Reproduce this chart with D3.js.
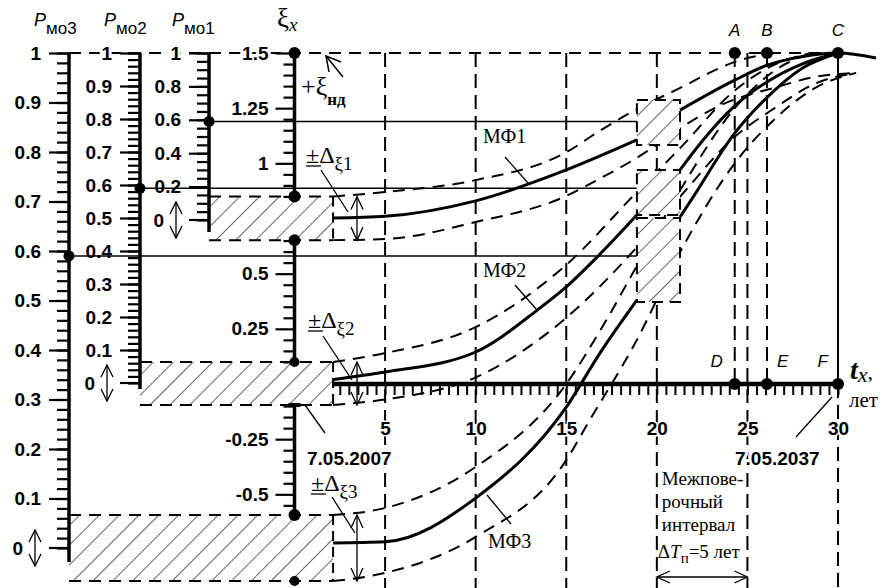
<!DOCTYPE html>
<html>
<head>
<meta charset="utf-8">
<script src="https://cdn.jsdelivr.net/npm/d3@7"></script>
<style>
  body { margin: 0; background: #fff; }
  text { fill: #000; }
</style>
</head>
<body>
<div id="chart"></div>
<script>
// ---------- data ----------
const yearTicks = [5, 10, 15, 20, 25, 30];
const xiLabels = [1.5, 1.25, 1, 0.5, 0.25, -0.25, -0.5];
const xiSegments = [[0.85, 1.5], [0.1, 0.652], [-0.594, -0.095]];
const xiDots = [1.5, 0.85, 0.652, 0.1, -0.594, -0.893];

const p1Labels = [1, 0.8, 0.6, 0.4, 0.2];
const p2Labels = [1, 0.9, 0.8, 0.7, 0.6, 0.5, 0.4, 0.3, 0.2, 0.1];
const p3Labels = [1, 0.9, 0.8, 0.7, 0.6, 0.5, 0.4, 0.3, 0.2, 0.1];
const pLevel = 0.59;              // P value marked on each P axis

// start uncertainty zones (ξ range) at t = 0..tStart
const tStart = 2.13;
const startZones = [[0.652, 0.85], [-0.095, 0.1], [-0.893, -0.594]];
// verification zones around t = 20
const tVer = [18.9, 21.28];
const verZones = [[1.083, 1.287], [0.766, 0.97], [0.372, 0.752]];

// metrological function curves [t, ξ]
const mf1a = [[2.13, 0.752], [5, 0.76], [10, 0.83], [15, 0.97], [18.9, 1.106]];
const mf1b = [[21.28, 1.241], [24.3, 1.377], [26.1, 1.445], [27.9, 1.482], [30, 1.5], [32.1, 1.477]];
const mf2a = [[2.13, 0.02], [5, 0.054], [10, 0.145], [13.4, 0.335], [15, 0.44], [16.7, 0.575], [18.9, 0.766]];
const mf2b = [[21.28, 0.97], [22.5, 1.1], [24.3, 1.26], [26.1, 1.37], [28, 1.45], [30, 1.5]];
const mf3a = [[2.13, -0.72], [5, -0.715], [10, -0.517], [15, -0.105], [16.86, 0.14], [18.9, 0.38]];
const mf3b = [[21.28, 0.757], [22, 0.847], [24.3, 1.137], [26.1, 1.3], [28, 1.43], [30, 1.5]];

// bounds (dashed)
const mf1Up = [[2.13, 0.85], [5, 0.87], [10, 0.924], [15, 1.05], [16.9, 1.15], [19, 1.25], [21.4, 1.346], [22.9, 1.41], [24.3, 1.46], [26.5, 1.5]];
const mf1Lo = [[2.13, 0.652], [5, 0.657], [10, 0.734], [15, 0.852], [16.7, 0.924], [19, 1.03], [21.5, 1.17], [23.3, 1.255], [26.8, 1.35], [28.6, 1.39], [31, 1.41]];
const mf2Up = [[2.13, 0.1], [5, 0.14], [10, 0.258], [15, 0.54], [18.9, 0.87], [21.3, 1.07], [24.3, 1.33], [26.3, 1.44], [28.5, 1.5]];
const mf2Lo = [[2.13, -0.095], [5, -0.07], [10, 0.03], [15, 0.3], [18.9, 0.62], [21.3, 0.85], [24.3, 1.12], [26.5, 1.25], [28.7, 1.36], [31, 1.41]];
const mf3Up = [[2.13, -0.594], [5, -0.562], [10, -0.376], [15, 0.0], [17, 0.26], [19, 0.55], [21.3, 0.88], [24.3, 1.25], [26.5, 1.42], [28.5, 1.5]];
const mf3Lo = [[2.13, -0.893], [5, -0.856], [10, -0.693], [15, -0.345], [16.2, -0.177], [18.9, 0.2], [21.3, 0.6], [24.3, 1.0], [26.5, 1.2], [28.7, 1.34], [31, 1.41]];

const markT = [24.3, 26.08, 30];           // A/D, B/E, C/F
const topNames = ['A', 'B', 'C'];
const axisNames = ['D', 'E', 'F'];

// ---------- layout ----------
const W = 893, H = 588;
const SANS = 'Liberation Sans, Arial, sans-serif';
const SERIF = 'Liberation Serif, Times New Roman, serif';

const x = d3.scaleLinear().domain([0, 30]).range([294.5, 838]);
const y = d3.scaleLinear().domain([0, 1.5]).range([384, 53]);
const p1 = d3.scaleLinear().domain([0, 1]).range([220, 53]);
const p2 = d3.scaleLinear().domain([0, 1]).range([383, 53]);
const p3 = d3.scaleLinear().domain([0, 1]).range([548, 53]);
const XP3 = 69, XP2 = 140, XP1 = 209, XXI = x(0);

const svg = d3.select('#chart').append('svg')
  .attr('width', W).attr('height', H)
  .style('font-family', SANS);

const defs = svg.append('defs');
defs.append('pattern').attr('id', 'hatch')
  .attr('patternUnits', 'userSpaceOnUse').attr('width', 14).attr('height', 14)
  .attr('patternTransform', 'rotate(45)')
  .append('line').attr('x1', 0).attr('y1', 0).attr('x2', 0).attr('y2', 14)
  .attr('stroke', '#000').attr('stroke-width', 1.2);

const lineGen = d3.line().x(d => x(d[0])).y(d => y(d[1])).curve(d3.curveMonotoneX);

function seg(g, x1, y1, x2, y2, w = 1.3, dash = null) {
  const l = g.append('line').attr('x1', x1).attr('y1', y1).attr('x2', x2).attr('y2', y2)
    .attr('stroke', '#000').attr('stroke-width', w);
  if (dash) l.attr('stroke-dasharray', dash);
  return l;
}

function dblArrow(g, ax, y0, y1, hw = 5, hl = 12) {
  seg(g, ax, y0, ax, y1, 1.3);
  g.append('path').attr('fill', 'none').attr('stroke', '#000').attr('stroke-width', 1.3)
    .attr('d', `M${ax - hw},${y0 + hl}L${ax},${y0}L${ax + hw},${y0 + hl}` +
               `M${ax - hw},${y1 - hl}L${ax},${y1}L${ax + hw},${y1 - hl}`);
}

const halo = s => s.attr('paint-order', 'stroke').attr('stroke', '#fff').attr('stroke-width', 6);

const grid = svg.append('g');
const GRID_DASH = '14,7';

// vertical dashed grid lines
yearTicks.filter(t => t < 30).forEach(t => seg(grid, x(t), y(1.5), x(t), H, 2, GRID_DASH));
markT.slice(0, 2).forEach(t => seg(grid, x(t), y(1.5), x(t), y(0), 2, GRID_DASH));
seg(grid, x(30), y(1.5), x(30), y(0), 2);
seg(grid, x(30), y(0), x(30), H, 2, GRID_DASH);

// top dashed line ξ = 1.5
seg(grid, XP3, y(1.5), x(30), y(1.5), 2, '12,8');

// horizontal thin lines from P marks
[[XP1, p1], [XP2, p2], [XP3, p3]].forEach(([ax, sc]) =>
  seg(grid, ax, sc(pLevel), x(tVer[0]), sc(pLevel), 1.4));

// start zones
const zones = svg.append('g');
const zoneLeft = [XP1, XP2, XP3];
startZones.forEach(([lo, hi], i) => {
  const x0 = zoneLeft[i], x1 = x(tStart);
  zones.append('rect').attr('x', x0).attr('y', y(hi)).attr('width', x1 - x0).attr('height', y(lo) - y(hi))
    .attr('fill', '#fff');
  zones.append('rect').attr('x', x0).attr('y', y(hi)).attr('width', x1 - x0).attr('height', y(lo) - y(hi))
    .attr('fill', 'url(#hatch)');
  seg(zones, x0, y(hi), x1, y(hi), 2, '12,8');
  seg(zones, x0, y(lo), x1, y(lo), 2, '12,8');
  seg(zones, x1, y(hi), x1, y(lo), 2, '10,6');
});

// dashed bounds
const curves = svg.append('g').attr('fill', 'none').attr('stroke', '#000');
[mf1Up, mf1Lo, mf2Up, mf2Lo, mf3Up, mf3Lo].forEach(s =>
  curves.append('path').attr('d', lineGen(s)).attr('stroke-width', 2).attr('stroke-dasharray', '12,8'));

// verification zones
verZones.forEach(([lo, hi]) => {
  const x0 = x(tVer[0]), x1 = x(tVer[1]);
  const gz = svg.append('g');
  gz.append('rect').attr('x', x0).attr('y', y(hi)).attr('width', x1 - x0).attr('height', y(lo) - y(hi)).attr('fill', '#fff');
  gz.append('rect').attr('x', x0).attr('y', y(hi)).attr('width', x1 - x0).attr('height', y(lo) - y(hi)).attr('fill', 'url(#hatch)');
  gz.append('rect').attr('x', x0).attr('y', y(hi)).attr('width', x1 - x0).attr('height', y(lo) - y(hi))
    .attr('fill', 'none').attr('stroke', '#000').attr('stroke-width', 2).attr('stroke-dasharray', '11,7');
});

// solid MF curves
const solid = svg.append('g').attr('fill', 'none').attr('stroke', '#000').attr('stroke-width', 3);
[mf1a, mf1b, mf2a, mf2b, mf3a, mf3b].forEach(s => solid.append('path').attr('d', lineGen(s)));

// ---------- axes ----------
const labelFont = g => g.selectAll('text')
  .attr('font-family', SANS).attr('font-size', 19).attr('font-weight', 'bold').attr('fill', '#000')
  .filter(d => d === 1 || d === 1.5).call(halo);

function multiples(lo, hi, step) {
  const out = [];
  for (let k = Math.ceil(lo / step - 1e-6); k * step <= hi + 1e-6; k++) out.push(+(k * step).toFixed(4));
  return out;
}

function pAxis(ax, scale, labels, step, top, bottom, zeroX) {
  const g = svg.append('g').attr('transform', `translate(${ax},0)`);
  g.append('g').call(d3.axisLeft(scale).tickValues(multiples(0, 1, step)).tickSize(12).tickSizeOuter(0).tickFormat(''))
    .call(a => a.select('.domain').remove())
    .call(a => a.selectAll('line').attr('stroke-width', 2.2));
  g.append('g').call(d3.axisLeft(scale).tickValues(labels).tickSize(20).tickPadding(8).tickSizeOuter(0).tickFormat(d => String(d)))
    .call(a => a.select('.domain').remove())
    .call(a => a.selectAll('line').attr('stroke-width', 2.2))
    .call(labelFont);
  seg(g, 0, top, 0, bottom, 3.5);
  // zero label with arrow
  g.append('text').attr('x', zeroX - ax).attr('y', scale(0) + 7).attr('text-anchor', 'end')
    .attr('font-size', 19).attr('font-weight', 'bold').text('0');
  seg(g, -20, scale(0), 0, scale(0), 2.2);
  dblArrow(g, zeroX - ax + 12, scale(0) - 18, scale(0) + 18, 6, 12);
}

pAxis(XP3, p3, p3Labels, 0.02, p3(1), p3(0) + 14, 23);
pAxis(XP2, p2, p2Labels, 0.02, p2(1), p2(0) + 6, 95);
pAxis(XP1, p1, p1Labels, 0.05, p1(1), p1(0) + 12, 164);

// ξ axis (segments)
const xiG = svg.append('g').attr('transform', `translate(${XXI},0)`);
xiSegments.forEach(([lo, hi]) => {
  const minor = multiples(lo, hi, 0.05).filter(v => !xiLabels.includes(v));
  xiG.append('g').call(d3.axisLeft(y).tickValues(minor).tickSize(11).tickSizeOuter(0).tickFormat(''))
    .call(a => a.select('.domain').remove())
    .call(a => a.selectAll('line').attr('stroke-width', 2.2));
  seg(xiG, 0, y(hi), 0, y(lo), 3.5);
});
xiG.append('g').call(d3.axisLeft(y).tickValues(xiLabels).tickSize(19).tickPadding(7).tickSizeOuter(0).tickFormat(d => String(d)))
  .call(a => a.select('.domain').remove())
  .call(a => a.selectAll('line').attr('stroke-width', 2.2))
  .call(labelFont);
seg(xiG, -6, y(-0.095), 6, y(-0.095), 4);
xiG.selectAll('circle.xd').data(xiDots).join('circle').attr('class', 'xd')
  .attr('cx', 0).attr('cy', d => y(d)).attr('r', d => (d === 0.1 || d === -0.893) ? 5 : 6);

// P level dots
[[XP1, p1], [XP2, p2], [XP3, p3]].forEach(([ax, sc]) =>
  svg.append('circle').attr('cx', ax).attr('cy', sc(pLevel)).attr('r', 5.5));

// time axis
const tG = svg.append('g').attr('transform', `translate(0,${y(0)})`);
tG.append('g').call(d3.axisBottom(x).tickValues(multiples(2.5, 30, 0.5)).tickSize(11).tickSizeOuter(0).tickFormat(''))
  .call(a => a.select('.domain').remove())
  .call(a => a.selectAll('line').attr('stroke-width', 2));
seg(tG, x(tStart), 0, x(30), 0, 4.5);
tG.append('g').call(d3.axisBottom(x).tickValues(yearTicks).tickSize(0).tickPadding(38).tickFormat(d => String(d)))
  .call(a => a.select('.domain').remove())
  .call(a => a.selectAll('text').attr('font-family', SANS).attr('font-size', 19).attr('font-weight', 'bold')
    .attr('paint-order', 'stroke').attr('stroke', '#fff').attr('stroke-width', 3));

// marks A..F
markT.forEach((t, i) => {
  svg.append('circle').attr('cx', x(t)).attr('cy', y(1.5)).attr('r', 6);
  svg.append('circle').attr('cx', x(t)).attr('cy', y(0)).attr('r', 6);
  svg.append('text').attr('x', x(t)).attr('y', 36).attr('text-anchor', 'middle')
    .attr('font-size', 17).attr('font-style', 'italic').text(topNames[i]);
});
svg.append('text').attr('x', x(markT[0]) - 12).attr('y', 367).attr('text-anchor', 'end')
  .attr('font-size', 17).attr('font-style', 'italic').text(axisNames[0]);
svg.append('text').attr('x', x(markT[1]) + 10).attr('y', 367)
  .attr('font-size', 17).attr('font-style', 'italic').text(axisNames[1]);
svg.append('text').attr('x', x(markT[2]) - 10).attr('y', 367).attr('text-anchor', 'end')
  .attr('font-size', 17).attr('font-style', 'italic').text(axisNames[2]);

// ---------- titles ----------
function pTitle(px, sub) {
  const t = svg.append('text').attr('x', px).attr('y', 26).attr('font-size', 18);
  t.append('tspan').attr('font-style', 'italic').text('P');
  t.append('tspan').attr('dy', 8).attr('font-size', 17).text(sub);
}
pTitle(34, 'мо3');
pTitle(104, 'мо2');
pTitle(172, 'мо1');

const xiT = svg.append('text').attr('x', 277).attr('y', 27).attr('font-family', SERIF).attr('font-size', 27);
xiT.append('tspan').text('ξ');
xiT.append('tspan').attr('dy', 4).attr('font-size', 19).attr('font-style', 'italic').text('x');

const tT = svg.append('text').attr('x', 850).attr('y', 379).attr('font-family', SERIF).attr('font-size', 28);
tT.append('tspan').attr('font-style', 'italic').attr('font-weight', 'bold').text('t');
tT.append('tspan').attr('dy', 3).attr('font-size', 22).attr('font-style', 'italic').text('x');
tT.append('tspan').attr('dy', -3).attr('font-size', 22).text(',');
svg.append('text').attr('x', 849).attr('y', 407).attr('font-family', SERIF).attr('font-size', 21).text('лет');

// +ξнд with arrow
const nd = svg.append('text').attr('x', 301).attr('y', 95).attr('font-family', SERIF).attr('font-size', 26);
nd.append('tspan').text('+ξ');
nd.append('tspan').attr('dy', 10).attr('font-size', 17).attr('font-weight', 'bold').text('нд');
seg(svg, 343, 77, 326, 56, 1.5);
svg.append('path').attr('fill', 'none').attr('stroke', '#000').attr('stroke-width', 1.5)
  .attr('d', 'M341,62L326,56L329,72');

// ±Δξ labels with leaders and arrows
const deltaLabels = [
  { lx: 306, ly: 163, sub: '1', from: [321, 170], to: [348, 212] },
  { lx: 308, ly: 328, sub: '2', from: [323, 336], to: [352, 380] },
  { lx: 311, ly: 491, sub: '3', from: [332, 497], to: [355, 533] },
];
deltaLabels.forEach((d, i) => {
  const t = svg.append('text').attr('x', d.lx).attr('y', d.ly).attr('font-family', SERIF).attr('font-size', 24);
  t.append('tspan').text('±Δ');
  t.append('tspan').attr('dy', 7).attr('font-size', 19).text('ξ' + d.sub);
  seg(svg, d.lx, d.ly + 3, d.lx + 15, d.ly + 3, 1.3);
  seg(svg, d.from[0], d.from[1], d.to[0], d.to[1], 1.3);
  const [lo, hi] = startZones[i];
  dblArrow(svg, x(3.45), y(hi), y(lo), 6, 13);
});

// MF labels
const mfLabels = [
  { text: 'МФ1', lx: 483, ly: 143, from: [505, 157], to: [528, 183] },
  { text: 'МФ2', lx: 483, ly: 277, from: [515, 285], to: [537, 310] },
  { text: 'МФ3', lx: 488, ly: 548, from: [487, 495], to: [511, 524] },
];
mfLabels.forEach(d => {
  svg.append('text').attr('x', d.lx).attr('y', d.ly).attr('font-family', SERIF).attr('font-size', 20).text(d.text);
  seg(svg, d.from[0], d.from[1], d.to[0], d.to[1], 1.3);
});

// dates
svg.append('text').attr('x', 307).attr('y', 465).attr('font-size', 19).attr('font-weight', 'bold').call(halo).text('7.05.2007');
seg(svg, 325, 433, 305, 405, 1.3);
svg.append('text').attr('x', 735).attr('y', 465).attr('font-size', 19).attr('font-weight', 'bold').call(halo).text('7.05.2037');
seg(svg, 796, 437, 832, 397, 1.3);

// inter-verification interval
const iv = ['Межпове-', 'рочный', 'интервал'];
iv.forEach((s, i) => svg.append('text').attr('x', x(20) + 5).attr('y', 485 + i * 23)
  .attr('font-family', SERIF).attr('font-size', 19).text(s));
const dt = svg.append('text').attr('x', x(20) + 1).attr('y', 558).attr('font-family', SERIF).attr('font-size', 19);
dt.append('tspan').text('Δ');
dt.append('tspan').attr('font-style', 'italic').text('T');
dt.append('tspan').attr('dy', 5).attr('font-size', 15).text('п');
dt.append('tspan').attr('dy', -5).text('=5 лет');
seg(svg, x(20), 577, x(25), 577, 1.3);
svg.append('path').attr('fill', 'none').attr('stroke', '#000').attr('stroke-width', 1.3)
  .attr('d', `M${x(20) + 13},571L${x(20)},577L${x(20) + 13},583M${x(25) - 13},571L${x(25)},577L${x(25) - 13},583`);
</script>
</body>
</html>
